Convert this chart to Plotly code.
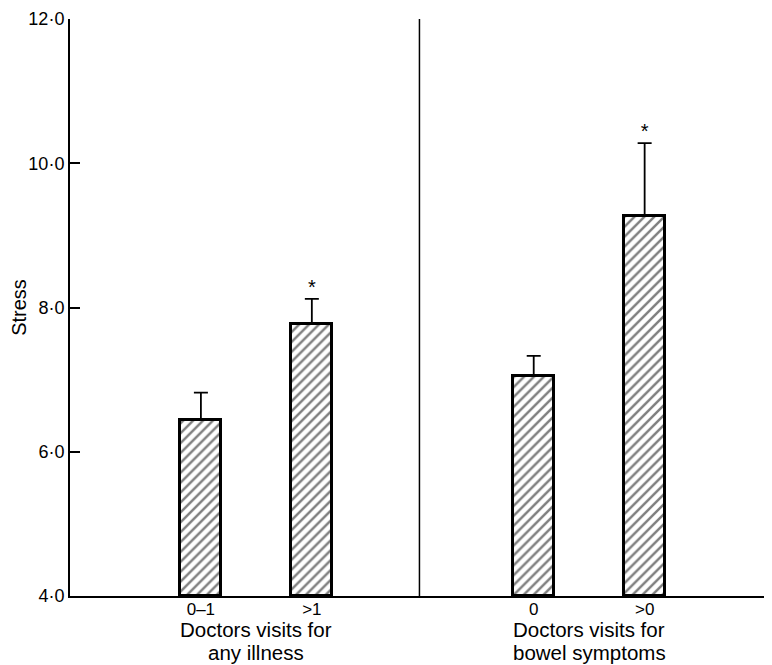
import plotly.graph_objects as go

# Data
slots = [" ", "0–1", ">1", "  ", "0", ">0", "   "]
bar_labels = ["0–1", ">1", "0", ">0"]
stress_means = [6.44, 7.77, 7.05, 9.27]
stress_err = [0.38, 0.35, 0.28, 1.01]
significant = ["", "*", "", "*"]
group_line1 = ["Doctors visits for", "Doctors visits for"]
group_line2 = ["any illness", "bowel symptoms"]
y_ticks = [4, 6, 8, 10, 12]
y_ticktext = ["4·0", "6·0", "8·0", "10·0", "12·0"]

FONT = "Liberation Sans, Arial, sans-serif"

fig = go.Figure()
fig.add_trace(go.Bar(
    x=bar_labels,
    y=[m - 4 for m in stress_means],
    base=4,
    width=0.37,
    marker=dict(
        color="white",
        line=dict(color="black", width=3),
        pattern=dict(shape="/", fgcolor="black", bgcolor="white", size=7, solidity=0.35),
    ),
    error_y=dict(type="data", symmetric=False, array=stress_err,
                 arrayminus=[0] * len(stress_err), color="black", thickness=1.8, width=7),
    showlegend=False,
))
fig.add_trace(go.Scatter(
    x=bar_labels,
    y=[m + e for m, e in zip(stress_means, stress_err)],
    mode="text",
    text=significant,
    textposition="top center",
    textfont=dict(family=FONT, size=20, color="black"),
    showlegend=False,
    cliponaxis=False,
))

# divider line between the two groups
fig.add_shape(type="line", xref="x", yref="y", x0=2.97, x1=2.97, y0=4, y1=12,
              line=dict(color="black", width=1.5))

for i in range(len(group_line1)):
    fig.add_annotation(x=1.5 + 3 * i, y=0, xref="x", yref="paper", yanchor="middle",
                       yshift=-33, text=group_line1[i], showarrow=False, borderpad=0,
                       font=dict(family=FONT, size=20.5, color="black"))
    fig.add_annotation(x=1.5 + 3 * i, y=0, xref="x", yref="paper", yanchor="middle",
                       yshift=-56, text=group_line2[i], showarrow=False, borderpad=0,
                       font=dict(family=FONT, size=20.5, color="black"))

fig.update_layout(
    width=764, height=657,
    margin=dict(l=62, r=2, t=11, b=69),
    paper_bgcolor="white", plot_bgcolor="white",
    font=dict(family=FONT, color="black"),
    bargap=0,
)
fig.update_xaxes(
    type="category", categoryorder="array", categoryarray=slots,
    range=[-0.18, 6.13],
    showline=True, linecolor="black", linewidth=2,
    showgrid=False, zeroline=False, ticks="",
    ticklabelstandoff=-3,
    tickfont=dict(family=FONT, size=17, color="black"),
)
fig.update_yaxes(
    range=[4, 12], tickvals=y_ticks, ticktext=y_ticktext,
    showline=True, linecolor="black", linewidth=2,
    showgrid=False, zeroline=False,
    ticks="inside", ticklen=10, tickwidth=2, tickcolor="black",
    tickfont=dict(family=FONT, size=18, color="black"),
    title=dict(text="Stress", font=dict(family=FONT, size=20, color="black"), standoff=4),
)

fig.write_html("out.html")
